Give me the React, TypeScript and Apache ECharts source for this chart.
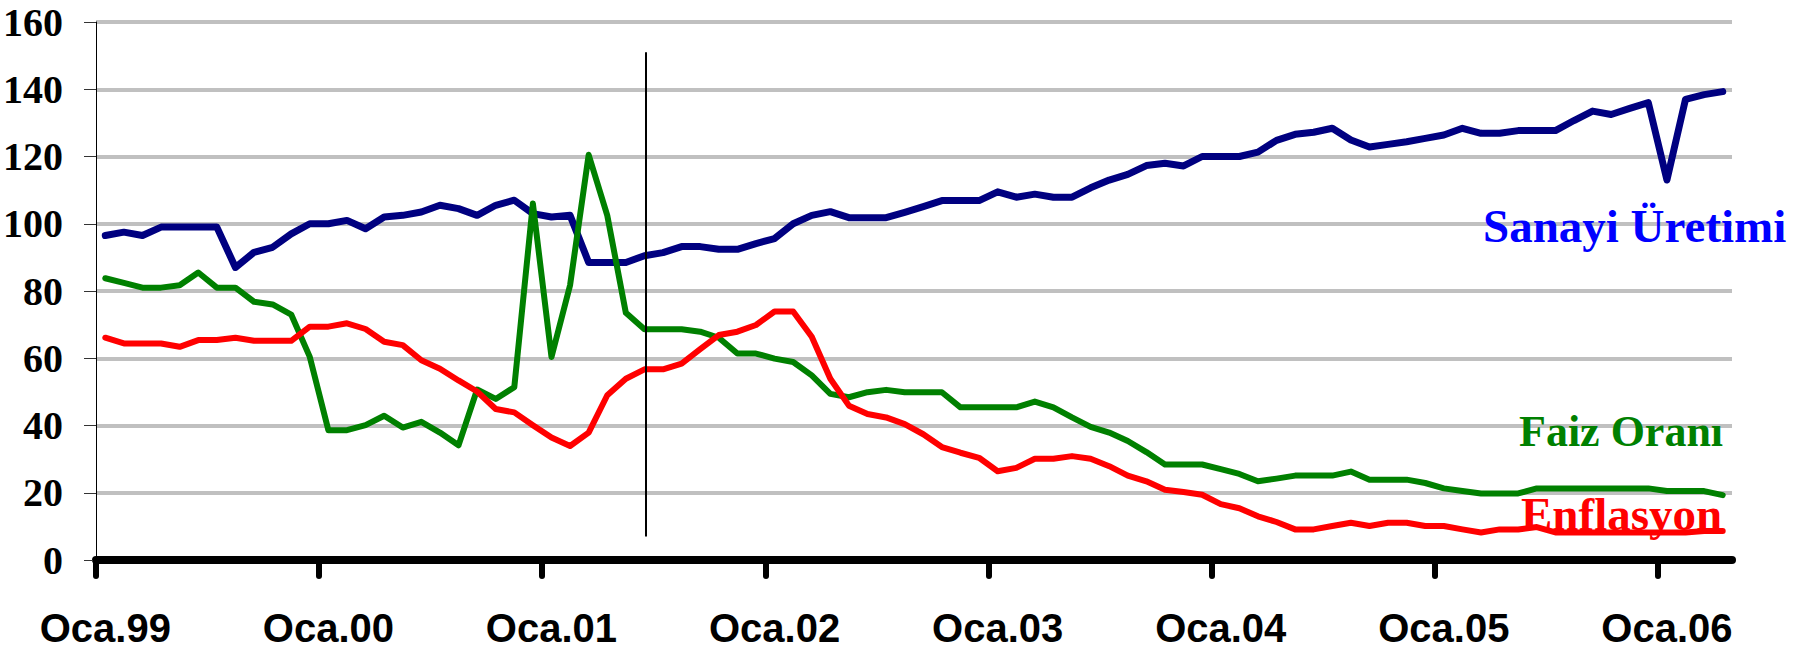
import React, { useEffect, useRef } from "react";
import * as echarts from "echarts";

// Monthly data, Oca.99 (Jan 1999) .. Nis.06 (Apr 2006): 88 months
const tickLabels = ["Oca.99", "Oca.00", "Oca.01", "Oca.02", "Oca.03", "Oca.04", "Oca.05", "Oca.06"];

const sanayiUretimi = [
  96.5, 97.5, 96.5, 99, 99, 99, 99, 87, 91.5, 93, 97, 100,
  100, 101, 98.5, 102, 102.5, 103.5, 105.5, 104.5, 102.5, 105.5, 107, 103,
  102, 102.5, 88.5, 88.5, 88.5, 90.5, 91.4, 93.2, 93.2, 92.4, 92.4, 94.1,
  95.6, 100, 102.5, 103.6, 101.8, 101.8, 101.8, 103.4, 105.1, 106.9, 106.9, 106.9,
  109.5, 107.9, 108.8, 107.9, 107.9, 110.7, 113, 114.7, 117.3, 118, 117.2, 120,
  120, 120, 121.3, 124.8, 126.6, 127.2, 128.4, 124.9, 122.8, 123.6, 124.4, 125.4,
  126.4, 128.4, 126.9, 126.9, 127.7, 127.7, 127.7, 130.7, 133.5, 132.5, 134.3, 136,
  113, 137, 138.4, 139.3,
];

const faizOrani = [
  83.8, 82.4, 81, 81, 81.7, 85.5, 81, 81, 76.8, 76, 73, 60.4,
  38.6, 38.6, 40.1, 42.9, 39.4, 41.1, 37.9, 34.1, 50.7, 47.9, 51.4, 106,
  60.4, 81.7, 120.5, 102.5, 73.5, 68.6, 68.6, 68.6, 67.9, 66.1, 61.4, 61.4,
  59.9, 58.9, 54.9, 49.4, 48.4, 49.9, 50.6, 49.9, 49.9, 49.9, 45.4, 45.4,
  45.4, 45.4, 47.1, 45.4, 42.4, 39.6, 37.9, 35.4, 32.1, 28.4, 28.4, 28.4,
  27, 25.6, 23.4, 24.2, 25.1, 25.1, 25.1, 26.3, 23.9, 23.9, 23.9, 22.9,
  21.3, 20.5, 19.8, 19.8, 19.8, 21.3, 21.3, 21.3, 21.3, 21.3, 21.3, 21.3,
  20.5, 20.5, 20.5, 19.3,
];

const enflasyon = [
  66.1, 64.4, 64.4, 64.4, 63.4, 65.4, 65.4, 66.1, 65.2, 65.2, 65.2, 69.4,
  69.4, 70.4, 68.7, 64.9, 63.9, 59.4, 56.9, 53.4, 50.1, 44.9, 43.9, 40.1,
  36.4, 33.9, 37.9, 49, 53.9, 56.7, 56.7, 58.4, 62.7, 66.9, 67.9, 69.9,
  73.9, 73.9, 66.4, 53.9, 45.9, 43.4, 42.4, 40.4, 37.4, 33.6, 31.9, 30.4,
  26.4, 27.4, 30.1, 30.1, 30.9, 30.1, 27.9, 25.1, 23.4, 20.9, 20.2, 19.4,
  16.6, 15.4, 13, 11.3, 9.1, 9.1, 10.1, 11.1, 10.1, 11.1, 11.1, 10.1,
  10.1, 9.1, 8.2, 9.1, 9.1, 9.8, 8.2, 8.2, 8.2, 8.2, 8.2, 8.2,
  8.2, 8.2, 8.6, 8.6,
];

// reference vertical line (month position, from-to values)
const breakLine = { month: 29.55, from: 151, to: 7 };

const monthCount = sanayiUretimi.length;
const toPoints = (arr: number[]) => arr.map((v, i) => [i + 0.5, v]);
const yearTicks = tickLabels.map((_, k) => k * 12);
const yearLabelPos = tickLabels.map((_, k) => k * 12 + 0.5);

export default function App() {
  const ref = useRef<HTMLDivElement>(null);
  useEffect(() => {
    document.body.style.margin = "0";
    if (!ref.current) return;
    const chart = echarts.init(ref.current, null, { renderer: "svg" });
    chart.setOption({
      animation: false,
      backgroundColor: "#ffffff",
      grid: { left: 96, right: 82, top: 22, bottom: 89, containLabel: false },
      xAxis: {
        type: "value",
        min: 0,
        max: monthCount,
        splitLine: { show: false },
        axisLine: { show: true, onZero: true, lineStyle: { color: "#000", width: 8, cap: "round" } },
        axisTick: {
          show: true,
          customValues: yearTicks,
          length: 16,
          lineStyle: { color: "#000", width: 6, cap: "round" },
        },
        axisLabel: {
          customValues: yearLabelPos,
          formatter: (v: number) => tickLabels[Math.round((v - 0.5) / 12)] ?? "",
          margin: 68,
          verticalAlign: "middle",
          fontFamily: "Liberation Sans",
          fontWeight: "bold",
          fontSize: 40,
          color: "#000",
        },
      },
      yAxis: {
        type: "value",
        min: 0,
        max: 160,
        interval: 20,
        axisLine: { show: true, lineStyle: { color: "#000", width: 1 } },
        axisTick: { show: true, length: 12, lineStyle: { color: "#333", width: 1 } },
        splitLine: { show: true, lineStyle: { color: "#C0C0C0", width: 4 } },
        axisLabel: {
          margin: 33,
          fontFamily: "Liberation Serif",
          fontWeight: "bold",
          fontSize: 40,
          color: "#000",
        },
      },
      series: [
        {
          name: "Sanayi Üretimi",
          type: "line",
          data: toPoints(sanayiUretimi),
          showSymbol: false,
          lineStyle: { color: "#000080", width: 7, cap: "round", join: "round" },
          itemStyle: { color: "#000080" },
          z: 2,
          markLine: {
            silent: true,
            symbol: "none",
            label: { show: false },
            lineStyle: { color: "#000", width: 2, type: "solid" },
            data: [[{ coord: [breakLine.month, breakLine.from] }, { coord: [breakLine.month, breakLine.to] }]],
          },
        },
        {
          name: "Faiz Oranı",
          type: "line",
          data: toPoints(faizOrani),
          showSymbol: false,
          lineStyle: { color: "#008000", width: 6, cap: "round", join: "round" },
          itemStyle: { color: "#008000" },
          z: 3,
        },
        {
          name: "Enflasyon",
          type: "line",
          data: toPoints(enflasyon),
          showSymbol: false,
          lineStyle: { color: "#FF0000", width: 6, cap: "round", join: "round" },
          itemStyle: { color: "#FF0000" },
          z: 4,
        },
      ],
      graphic: [
        {
          type: "text",
          x: 1483,
          y: 226,
          z: 100,
          style: { text: "Sanayi Üretimi", fill: "#0000FF", font: 'bold 47px "Liberation Serif"', align: "left", verticalAlign: "middle" },
        },
        {
          type: "text",
          x: 1519,
          y: 431,
          z: 100,
          style: { text: "Faiz Oranı", fill: "#008000", font: 'bold 44px "Liberation Serif"', align: "left", verticalAlign: "middle" },
        },
        {
          type: "text",
          x: 1521,
          y: 514,
          z: 100,
          style: { text: "Enflasyon", fill: "#FF0000", font: 'bold 47px "Liberation Serif"', align: "left", verticalAlign: "middle" },
        },
      ],
    });
    return () => chart.dispose();
  }, []);
  return <div ref={ref} style={{ width: 1814, height: 649 }} />;
}
